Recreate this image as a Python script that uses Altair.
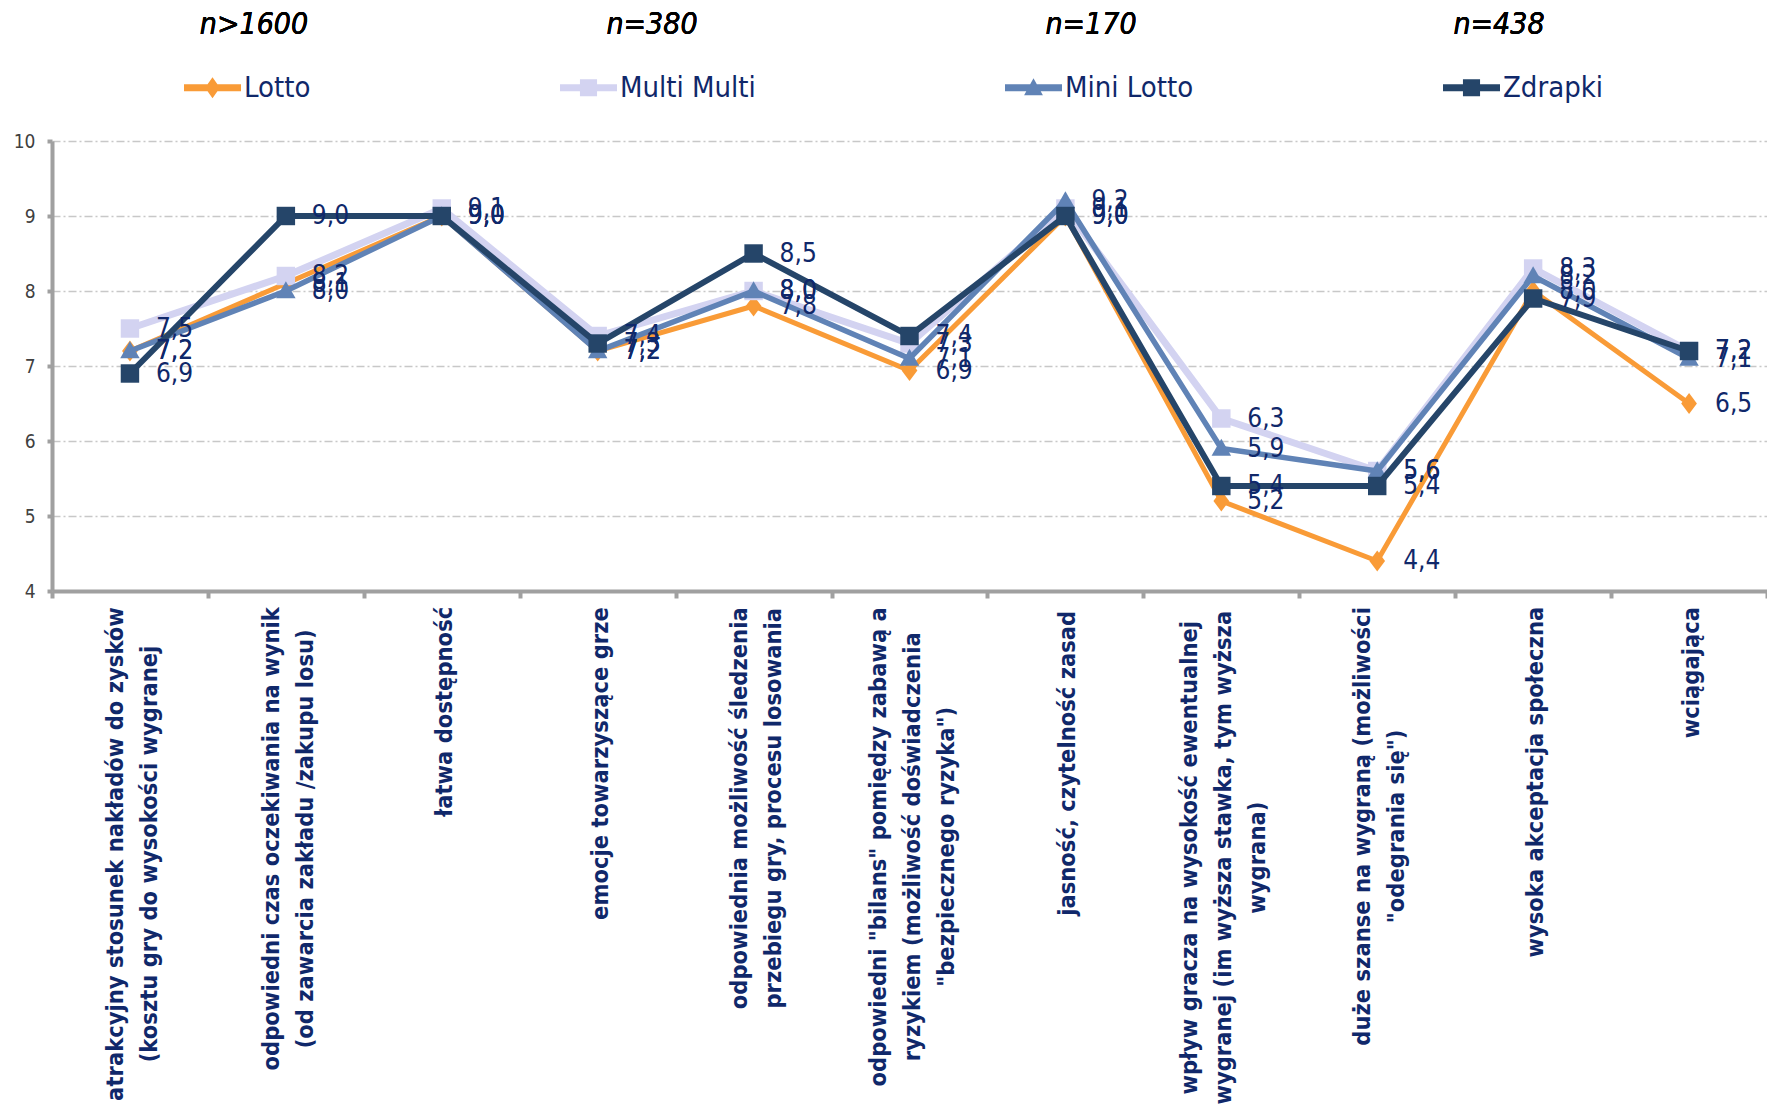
import altair as alt
import pandas as pd

# ---------------- data ----------------
categories = [
    "atrakcyjny stosunek nakładów do zysków (kosztu gry do wysokości wygranej",
    "odpowiedni czas oczekiwania na wynik (od zawarcia zakładu /zakupu losu)",
    "łatwa dostępność",
    "emocje towarzyszące grze",
    "odpowiednia możliwość śledzenia przebiegu gry, procesu losowania",
    "odpowiedni \"bilans\" pomiędzy zabawą a ryzykiem (możliwość doświadczenia \"bezpiecznego ryzyka\")",
    "jasność,  czytelność zasad",
    "wpływ gracza na wysokość ewentualnej wygranej (im wyższa stawka,  tym wyższa wygrana)",
    "duże szanse na wygraną (możliwości \"odegrania się\")",
    "wysoka akceptacja społeczna",
    "wciągająca",
]
label_lines = [
    ["atrakcyjny stosunek nakładów do zysków", "(kosztu gry do wysokości wygranej"],
    ["odpowiedni czas oczekiwania na wynik", "(od zawarcia zakładu /zakupu losu)"],
    ["łatwa dostępność"],
    ["emocje towarzyszące grze"],
    ["odpowiednia możliwość śledzenia", "przebiegu gry, procesu losowania"],
    ["odpowiedni \"bilans\" pomiędzy zabawą a", "ryzykiem (możliwość doświadczenia", "\"bezpiecznego ryzyka\")"],
    ["jasność,  czytelność zasad"],
    ["wpływ gracza na wysokość ewentualnej", "wygranej (im wyższa stawka,  tym wyższa", "wygrana)"],
    ["duże szanse na wygraną (możliwości", "\"odegrania się\")"],
    ["wysoka akceptacja społeczna"],
    ["wciągająca"],
]
series = ["Lotto", "Multi Multi", "Mini Lotto", "Zdrapki"]
lotto = [7.2, 8.1, 9.0, 7.2, 7.8, 6.94, 9.0, 5.2, 4.4, 8.0, 6.5]
multi_multi = [7.5, 8.2, 9.1, 7.4, 8.0, 7.3, 9.1, 6.3, 5.6, 8.3, 7.2]
mini_lotto = [7.2, 8.0, 9.0, 7.2, 8.0, 7.1, 9.2, 5.9, 5.6, 8.2, 7.1]
zdrapki = [6.9, 9.0, 9.0, 7.3, 8.5, 7.4, 9.0, 5.4, 5.4, 7.9, 7.2]
sample_sizes = ["n>1600", "n=380", "n=170", "n=438"]
y_ticks = [4, 5, 6, 7, 8, 9, 10]

# ---------------- style ----------------
colors = ["#F99B37", "#D3D3F1", "#6083B6", "#254569"]
line_widths = [5, 7, 5.5, 6]
marker_paths = [
    "M0,-1L0.75,0L0,1L-0.75,0Z",
    "square",
    "M0,-1L1,0.75L-1,0.75Z",
    "square",
]
marker_sizes = [440, 340, 380, 340]
legend_paths = [
    "M-1,-0.12H1V0.12H-1Z M0,-0.37L0.26,0L0,0.37L-0.26,0Z",
    "M-1,-0.12H1V0.12H-1Z M-0.3,-0.3H0.3V0.3H-0.3Z",
    "M-1,-0.12H1V0.12H-1Z M0,-0.33L0.33,0.26L-0.33,0.26Z",
    "M-1,-0.12H1V0.12H-1Z M-0.3,-0.3H0.3V0.3H-0.3Z",
]
NAVY = "#10286A"
FONT = "DejaVu Sans Condensed, DejaVu Sans"
PLOT_W, PLOT_H = 1715, 450
PX_PER_UNIT = PLOT_H / (y_ticks[-1] - y_ticks[0])
XLAB_FS = 23.5
XLAB_LH = 34
XLAB_GAP = 16

values = {"Lotto": lotto, "Multi Multi": multi_multi, "Mini Lotto": mini_lotto, "Zdrapki": zdrapki}
rows = []
for s in series:
    for c, v in zip(categories, values[s]):
        rows.append({"cat": c, "series": s, "value": v})
df = pd.DataFrame(rows)

# approximate text width estimate (em, bold) to top-align rotated label blocks
W = {'a': .675, 'b': .716, 'c': .593, 'd': .716, 'e': .678, 'f': .435, 'g': .716, 'h': .712,
     'i': .343, 'j': .343, 'k': .665, 'l': .343, 'm': 1.042, 'n': .712, 'o': .687, 'p': .716,
     'q': .716, 'r': .493, 's': .595, 't': .478, 'u': .712, 'v': .652, 'w': .924, 'x': .645,
     'y': .652, 'z': .582, ' ': .348, '(': .457, ')': .457, ',': .38, '.': .38, '"': .521,
     '/': .365, 'ł': .343, 'ą': .675, 'ę': .678, 'ó': .687, 'ś': .595, 'ć': .593, 'ż': .582,
     'ź': .582, 'ń': .712}


def text_w(s, fs):
    return sum(W.get(ch, 0.65) for ch in s) * 0.9 * fs


lab_rows = []
for c, lines in zip(categories, label_lines):
    w = max(text_w(l, XLAB_FS) for l in lines)
    lab_rows.append({"cat": c, "txt": "\n".join(lines), "nl": len(lines),
                     "ly": y_ticks[0] - (XLAB_GAP + w / 2) / PX_PER_UNIT})
lab_df = pd.DataFrame(lab_rows)

# ---------------- encodings ----------------
x_axis = alt.Axis(labels=False, title=None, domain=True, domainColor="#A0A0A0", domainWidth=4,
                  ticks=True, tickBand="extent", tickSize=7, tickWidth=4, tickColor="#A0A0A0",
                  grid=False)
x_enc = alt.X("cat:N", sort=categories, bandPosition=0.5,
              scale=alt.Scale(type="band", domain=categories, paddingInner=0, paddingOuter=0),
              axis=x_axis)
y_axis = alt.Axis(values=y_ticks, title=None, domain=True, domainColor="#A0A0A0", domainWidth=4,
                  ticks=True, tickSize=5, tickWidth=4, tickColor="#A0A0A0",
                  labelFont=FONT, labelFontSize=19, labelColor="#404040", labelPadding=12,
                  grid=True, gridColor="#C8C8C8", gridDash=[8, 3, 2, 3], gridWidth=1.5)
y_scale = alt.Scale(domain=[y_ticks[0], y_ticks[-1]], nice=False, zero=False)

base = alt.Chart(df)
layers = []
for i, s in enumerate(series):
    sub = base.transform_filter(alt.datum.series == s)
    layers.append(sub.mark_line(strokeWidth=line_widths[i], color=colors[i]).encode(
        x=x_enc, y=alt.Y("value:Q", scale=y_scale, axis=y_axis)))
    layers.append(sub.mark_point(filled=True, shape=marker_paths[i], size=marker_sizes[i],
                                 color=colors[i], opacity=1, strokeWidth=0).encode(
        x=x_enc, y=alt.Y("value:Q", scale=y_scale, axis=y_axis)))

labels = base.transform_calculate(
    lab="replace(format(datum.value, '.1f'), '.', ',')"
).mark_text(align="left", baseline="middle", dx=26, fontSize=26, font=FONT, color=NAVY).encode(
    x=x_enc, y=alt.Y("value:Q", scale=y_scale, axis=y_axis), text="lab:N")
layers.append(labels)

# category labels, rotated; lines of each block centred on its category
for n in (1, 2, 3):
    layers.append(alt.Chart(lab_df).transform_filter(alt.datum.nl == n).mark_text(
        angle=270, align="center", baseline="middle", fontSize=XLAB_FS, fontWeight="bold",
        font=FONT, color=NAVY, lineBreak="\n", lineHeight=XLAB_LH,
        dy=-(n - 1) * XLAB_LH / 2 + 3
    ).encode(x=x_enc, y=alt.Y("ly:Q", scale=y_scale, axis=y_axis), text="txt:N"))

leg = alt.Legend(title=None, orient="none", legendX=132, legendY=-82, direction="horizontal",
                 columnPadding=249, labelFont=FONT, labelFontSize=29, labelColor=NAVY,
                 labelOffset=3, symbolSize=3249, symbolStrokeWidth=0, symbolOpacity=1, padding=0)
legend_df = pd.DataFrame({"series": series, "cat": categories[0], "value": 7.0})
legend_layer = alt.Chart(legend_df).mark_point(filled=True, opacity=0).encode(
    x=x_enc, y=alt.Y("value:Q", scale=y_scale, axis=y_axis),
    color=alt.Color("series:N", scale=alt.Scale(domain=series, range=colors), legend=leg),
    shape=alt.Shape("series:N", scale=alt.Scale(domain=series, range=legend_paths), legend=leg),
)
layers.append(legend_layer)

n_x = [202, 600, 1039, 1447]
for txt, xp in zip(sample_sizes, n_x):
    layers.append(alt.Chart(legend_df).mark_text(
        fontSize=30, fontStyle="italic", font=FONT, color="#000000", align="center",
        baseline="middle").encode(x=alt.value(xp), y=alt.value(-116.5), text=alt.value(txt)))

chart = alt.layer(*layers).properties(
    width=PLOT_W, height=PLOT_H,
    autosize=alt.AutoSizeParams(type="none"),
    padding={"left": 44, "top": 133, "right": 0, "bottom": 516},
).configure_view(strokeWidth=0)

chart.save("out.html", embed_options={"renderer": "svg", "actions": False})
